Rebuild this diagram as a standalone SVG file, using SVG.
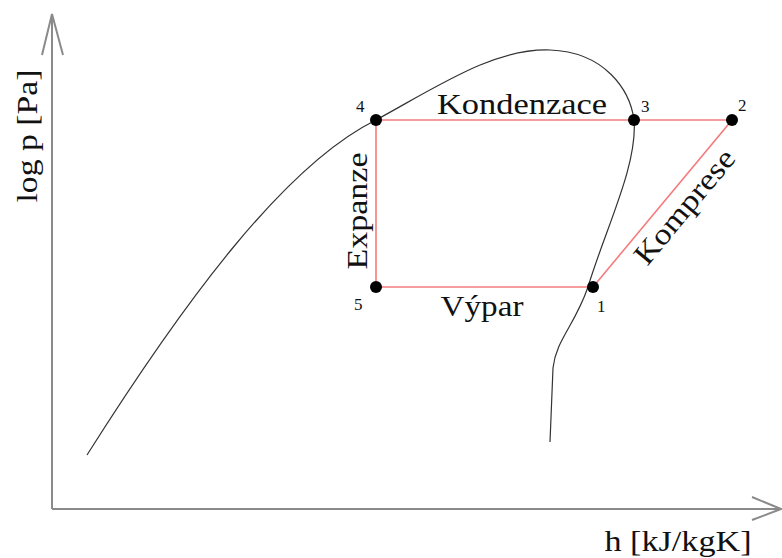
<svg xmlns="http://www.w3.org/2000/svg" width="782" height="558" viewBox="0 0 782 558">
<style>
.t{font-family:"Liberation Serif","Times New Roman",serif;fill:#111}
.lbl{font-size:30px}
.num{font-size:17px}
.axis{stroke:#8a8a8a;stroke-width:2;fill:none}
.cyc{stroke:#f47c7c;stroke-width:1.6;fill:none}
.pt{fill:#000}
</style>
<rect width="782" height="558" fill="#fff"/>
<g id="axes">
<path class="axis" d="M52,509 V14 M42,55 L52,14 L63,55"/>
<path class="axis" d="M52,509 H781 M752,497 L781,509 L752,520"/>
<text class="t lbl" transform="translate(37,136) rotate(-90)" text-anchor="middle" textLength="133" lengthAdjust="spacingAndGlyphs">log p [Pa]</text>
<text class="t lbl" x="678" y="551" text-anchor="middle" textLength="147" lengthAdjust="spacingAndGlyphs">h [kJ/kgK]</text>
</g>
<g id="curve">
<path d="M87,455 C185,300 285,165 376,120 C440,85 495,48 550,50 C605,52 630,90 634,120 C638,165 605,230 588,287 C575,325 556,340 553,368 L550,442" fill="none" stroke="#333" stroke-width="1.2"/>
</g>
<g id="connectors">
<path class="cyc" d="M376,120 H732 L593,287 H376 Z"/>
</g>
<g id="p4"><circle class="pt" cx="376" cy="120" r="6"/><text class="t num" x="356" y="112">4</text></g>
<g id="p3"><circle class="pt" cx="634" cy="120" r="6"/><text class="t num" x="641" y="112">3</text></g>
<g id="p2"><circle class="pt" cx="732" cy="120" r="6"/><text class="t num" x="738" y="111">2</text></g>
<g id="p1"><circle class="pt" cx="593" cy="287" r="6"/><text class="t num" x="597" y="312">1</text></g>
<g id="p5"><circle class="pt" cx="376" cy="287" r="6"/><text class="t num" x="354" y="310">5</text></g>
<g id="labels">
<text class="t lbl" x="522" y="114" text-anchor="middle" textLength="170" lengthAdjust="spacingAndGlyphs">Kondenzace</text>
<text class="t lbl" x="482" y="316" text-anchor="middle" textLength="83" lengthAdjust="spacingAndGlyphs">Výpar</text>
<text class="t lbl" transform="translate(367,211) rotate(-90)" text-anchor="middle" textLength="117" lengthAdjust="spacingAndGlyphs">Expanze</text>
<text class="t lbl" transform="translate(692,213) rotate(-50.2)" text-anchor="middle" textLength="140" lengthAdjust="spacingAndGlyphs">Komprese</text>
</g>
</svg>
